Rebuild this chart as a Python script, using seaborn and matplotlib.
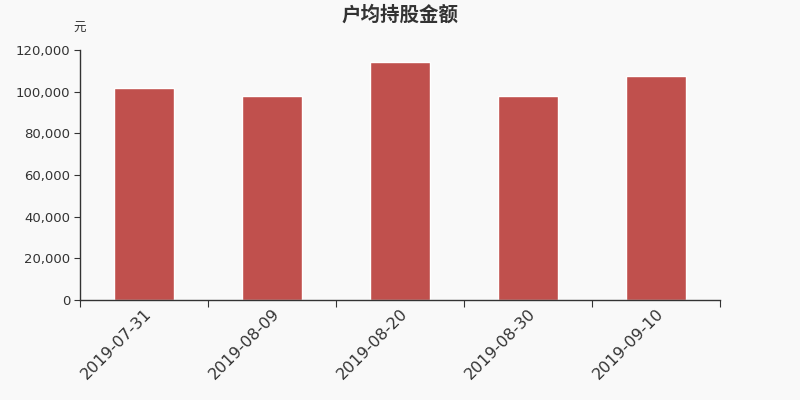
import matplotlib
matplotlib.use("Agg")
import matplotlib.pyplot as plt
import seaborn as sns
import pandas as pd
from matplotlib.ticker import FuncFormatter, MultipleLocator

dates = ["2019-07-31", "2019-08-09", "2019-08-20", "2019-08-30", "2019-09-10"]
values = [101900, 97900, 114200, 97900, 107400]

sns.set_style("white")
plt.rcParams['font.family'] = ['Noto Sans CJK SC', 'DejaVu Sans']

df = pd.DataFrame({"date": dates, "value": values})

fig = plt.figure(figsize=(8, 4), dpi=100, facecolor="#f9f9f9")
ax = fig.add_axes([0.1, 0.25, 0.8, 0.625])
ax.set_facecolor("#f9f9f9")

sns.barplot(data=df, x="date", y="value", color="#c0504d", saturation=1,
            width=0.47, ax=ax)

ax.set_xlim(-0.5, len(dates) - 0.5)
ax.set_ylim(0, 120000)
ax.yaxis.set_major_locator(MultipleLocator(20000))
ax.yaxis.set_major_formatter(FuncFormatter(lambda v, p: f"{int(v):,}"))

for s in ["top", "right"]:
    ax.spines[s].set_visible(False)
for s in ["left", "bottom"]:
    ax.spines[s].set_color("#333333")
    ax.spines[s].set_linewidth(1)

ax.set_xticks([i - 0.5 for i in range(len(dates) + 1)], minor=False)
ax.set_xticklabels([""] * (len(dates) + 1))
ax.set_xticks(range(len(dates)), minor=True)
ax.set_xticklabels(dates, minor=True, rotation=45, ha="right",
                   rotation_mode="anchor", fontsize=11.5, color="#333333",
                   family=['DejaVu Sans'])
ax.tick_params(axis="x", which="major", length=5, color="#333333",
               direction="out", bottom=True)
ax.tick_params(axis="x", which="minor", length=0, pad=4)
ax.tick_params(axis="y", length=4, color="#333333", labelsize=9.5,
               labelcolor="#333333", left=True, pad=3)
for lab in ax.get_yticklabels():
    lab.set_family(['DejaVu Sans'])

ax.set_xlabel("")
ax.set_ylabel("")

fig.text(0.5, 0.963, "户均持股金额", ha="center", va="center",
         fontsize=14, fontweight="bold", color="#333333")
fig.text(0.099, 0.929, "元", ha="center", va="center", fontsize=9,
         color="#333333")

fig.savefig("out.png", dpi=100, facecolor=fig.get_facecolor())
